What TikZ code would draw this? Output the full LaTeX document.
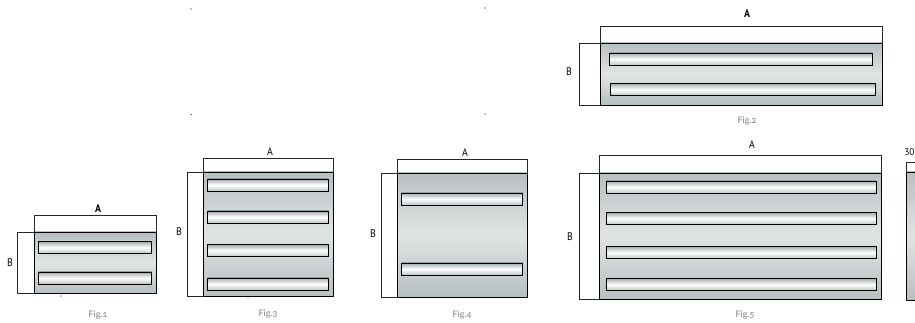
\documentclass[tikz,border=0pt]{standalone}
\usepackage{fontspec}
\usepackage{xcolor}
\usepackage{tikz}
\setmainfont{PT Sans}
\newfontfamily\figfont[Numbers=OldStyle]{Lato}
\definecolor{plateEdge}{HTML}{B7BFC1}
\definecolor{plateMid}{HTML}{E1E4E5}
\definecolor{slotEdge}{HTML}{A4ACAE}
\definecolor{figGrey}{HTML}{7F7F7F}
\tikzstyle{plate} = [rectangle, draw, line width = 0.9pt, inner sep = 0pt, outer sep = 0pt, top color = plateEdge, bottom color = plateEdge, middle color = plateMid]
\tikzstyle{slot} = [rectangle, draw, line width = 0.9pt, inner sep = 0pt, outer sep = 0pt, minimum height = 12pt, top color = slotEdge, bottom color = slotEdge!70, middle color = white]
\tikzstyle{dim} = [line width = 0.7pt, draw = black!85]
\tikzstyle{dimlabel} = [inner sep = 0pt, xscale = 0.9, font = \fontsize{11}{13}\selectfont]
\tikzstyle{boldlabel} = [dimlabel, font = \fontsize{11}{13}\selectfont\bfseries]
\tikzstyle{figlabel} = [inner sep = 0pt, text = figGrey, font = \figfont\fontsize{9}{11}\selectfont]
\tikzstyle{speck} = [circle, fill = black, inner sep = 0pt, minimum size = 1.4pt]

\begin{document}
\begin{tikzpicture}[x = 1pt, y = 1pt]
        \clip[use as bounding box] (0,0) rectangle (915,323);
        % plates
        \node(plateOne) [plate, minimum width = 122pt, minimum height = 61pt] at (95,60.5) {};
        \node(plateTwo) [plate, minimum width = 282pt, minimum height = 62pt] at (741,249) {};
        \node(plateThree) [plate, minimum width = 130pt, minimum height = 124pt] at (268,89) {};
        \node(plateFour) [plate, minimum width = 130pt, minimum height = 124pt] at (462,88) {};
        \node(plateFive) [plate, minimum width = 282pt, minimum height = 126pt] at (740,87) {};
        \node(plateSix) [plate, minimum width = 130pt, minimum height = 128pt] at (971,87) {};
        % slots
        \node(slotOneA) [slot, minimum width = 113pt, above of = plateOne, node distance = 15pt] {};
        \node(slotOneB) [slot, minimum width = 113pt, below of = plateOne, node distance = 15.5pt] {};
        \node(slotTwoA) [slot, minimum width = 263pt, above of = plateTwo, node distance = 15pt] {};
        \node(slotTwoB) [slot, minimum width = 265pt, below of = plateTwo, node distance = 15.5pt, xshift = 1.5pt] {};
        \node(slotThreeA) [slot, minimum width = 121pt, above of = plateThree, node distance = 49pt] {};
        \node(slotThreeB) [slot, minimum width = 121pt, above of = plateThree, node distance = 17pt] {};
        \node(slotThreeC) [slot, minimum width = 121pt, below of = plateThree, node distance = 16.5pt] {};
        \node(slotThreeD) [slot, minimum width = 121pt, below of = plateThree, node distance = 50pt] {};
        \node(slotFourA) [slot, minimum width = 121pt, above of = plateFour, node distance = 36pt] {};
        \node(slotFourB) [slot, minimum width = 121pt, below of = plateFour, node distance = 34pt] {};
        \node(slotFiveA) [slot, minimum width = 270pt, above of = plateFive, node distance = 49pt, xshift = 1pt] {};
        \node(slotFiveB) [slot, minimum width = 270pt, above of = plateFive, node distance = 17.5pt, xshift = 1pt] {};
        \node(slotFiveC) [slot, minimum width = 270pt, below of = plateFive, node distance = 16.5pt, xshift = 1pt] {};
        \node(slotFiveD) [slot, minimum width = 270pt, below of = plateFive, node distance = 48.5pt, xshift = 1pt] {};
        % dimension labels
        \node(labelOneA) [boldlabel] at (98,114) {A};
        \node(labelOneB) [dimlabel] at (10,60) {B};
        \node(labelTwoA) [boldlabel] at (747,309) {A};
        \node(labelTwoB) [dimlabel] at (569,251) {B};
        \node(labelThreeA) [dimlabel] at (270,171) {A};
        \node(labelThreeB) [dimlabel] at (179,91) {B};
        \node(labelFourA) [dimlabel] at (465,170) {A};
        \node(labelFourB) [dimlabel] at (373,89) {B};
        \node(labelFiveA) [dimlabel] at (752,178) {A};
        \node(labelFiveB) [dimlabel] at (570,86) {B};
        \node(labelSixA) [inner sep = 0pt, font = \fontsize{9.5}{11}\selectfont, anchor = east] at (914.8,171) {30};
        % captions
        \node(figOne) [figlabel, below of = plateOne, node distance = 52.5pt, xshift = 3pt] {Fig.1};
        \node(figTwo) [figlabel, below of = plateTwo, node distance = 47pt, xshift = 6pt] {Fig.2};
        \node(figThree) [figlabel, below of = plateThree, node distance = 80pt] {Fig.3};
        \node(figFour) [figlabel, below of = plateFour, node distance = 80pt] {Fig.4};
        \node(figFive) [figlabel, below of = plateFive, node distance = 79pt, xshift = 5pt] {Fig.5};
        % stray marks
        \node(speckA) [speck] at (191,314) {};
        \node(speckB) [speck] at (485,315) {};
        \node(speckC) [speck] at (191,208.5) {};
        \node(speckD) [speck] at (485,209) {};
        \node(speckE) [speck] at (61,27) {};
        \node(speckF) [speck] at (248,26) {};
        % dimension lines
        \draw[dim] (plateOne.north west) -- ++(0,17) -| (plateOne.north east);
        \draw[dim] (plateOne.north west) -- ++(-17,0) |- (plateOne.south west);
        \draw[dim] (plateTwo.north west) -- ++(0,17) -| (plateTwo.north east);
        \draw[dim] (plateTwo.north west) -- ++(-21,0) |- (plateTwo.south west);
        \draw[dim] (plateThree.north west) -- ++(0,14) -| (plateThree.north east);
        \draw[dim] (plateThree.north west) -- ++(-16,0) |- (plateThree.south west);
        \draw[dim] (plateFour.north west) -- ++(0,14) -| (plateFour.north east);
        \draw[dim] (plateFour.north west) -- ++(-16,0) |- (plateFour.south west);
        \draw[dim] (plateFive.north west) -- ++(0,18) -| (plateFive.north east);
        \draw[dim] (plateFive.north west) -- ++(-20,0) |- (plateFive.south west);
        \draw[dim] (plateSix.north west) -- ++(0,10) -| (plateSix.north east);
    \end{tikzpicture}
\end{document}
